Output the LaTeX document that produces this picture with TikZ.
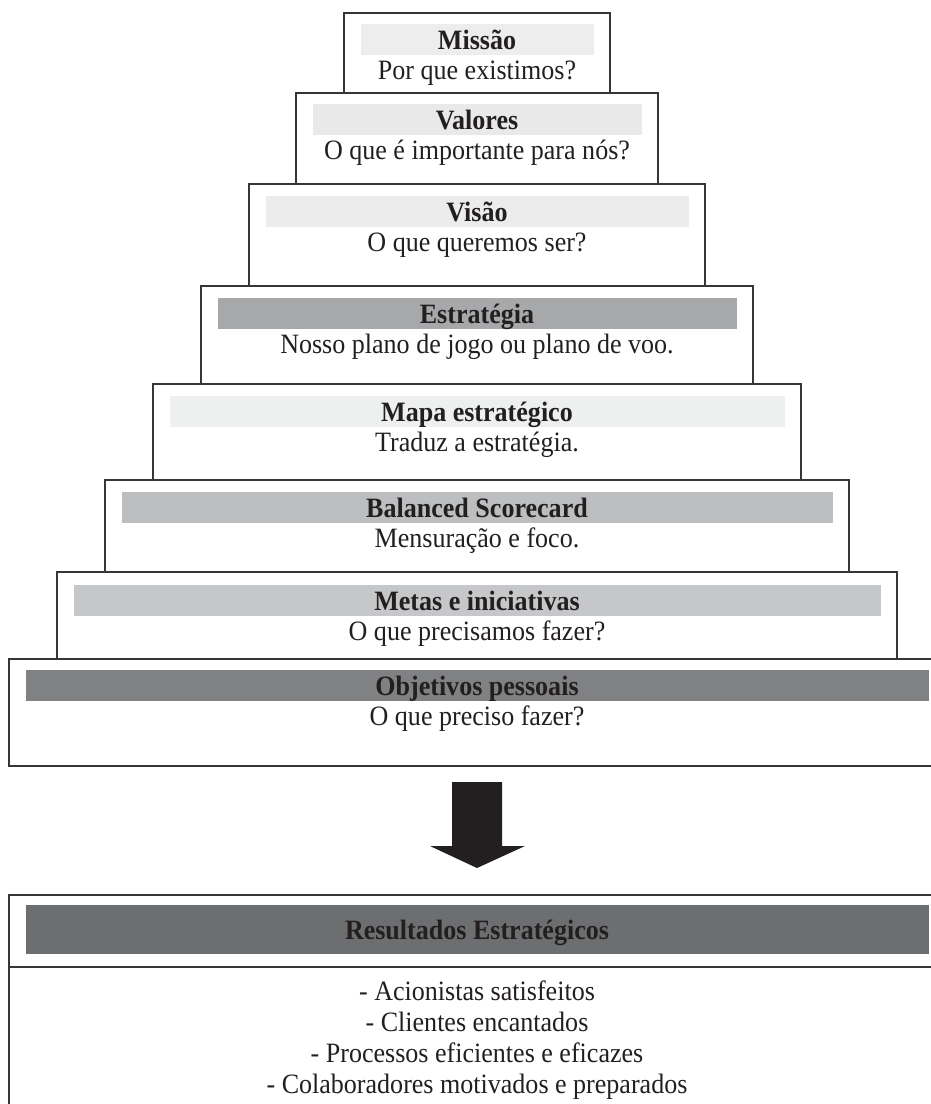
\documentclass[tikz,border=0pt]{standalone}
\usepackage{fontspec}
\setmainfont[FakeStretch=0.93]{Liberation Serif}
\definecolor{linec}{HTML}{363636}
\definecolor{txtc}{HTML}{231F20}
\definecolor{arrowc}{HTML}{231F20}
\definecolor{bandA}{HTML}{EDEDED}
\definecolor{bandB}{HTML}{E9E9E9}
\definecolor{bandC}{HTML}{ECECEC}
\definecolor{bandD}{HTML}{A7A8AA}
\definecolor{bandE}{HTML}{EEEFEF}
\definecolor{bandF}{HTML}{BDBEC0}
\definecolor{bandG}{HTML}{C6C7C9}
\definecolor{bandH}{HTML}{808183}
\definecolor{bandR}{HTML}{6D6E70}
\newcommand\pyrlevel[8]{%
  \pgfmathsetmacro\lvW{2*(477-#2)}%
  \pgfmathsetmacro\lvH{#4-#3}%
  \pgfmathsetmacro\lvBW{\lvW-33}%
  \node[levelbox, minimum width=\lvW pt, minimum height=\lvH pt] (#1) at (#2,#3) {};
  \node[bandbox, fill=#6, minimum width=\lvBW pt] (#1band) at ({#2+16.5},#5) {};
  \node[ttl] (#1title) at (477,{#5+25}) {#7};
  \node[sub] (#1sub) at (477,{#5+55}) {#8};
}
\begin{document}
\begin{tikzpicture}[x=1pt,y=-1pt,
  levelbox/.style={draw=linec, line width=1.6pt, fill=white, inner sep=0pt, outer sep=0pt, anchor=north west},
  bandbox/.style={draw=none, inner sep=0pt, outer sep=0pt, minimum height=31pt, anchor=north west},
  ttl/.style={font=\fontsize{28}{31}\selectfont\bfseries, text=txtc, anchor=base, inner sep=0pt},
  sub/.style={font=\fontsize{28}{31}\selectfont, text=txtc, anchor=base, inner sep=0pt},
  item/.style={font=\fontsize{28}{31}\selectfont, text=txtc, anchor=base, inner sep=0pt}]
\useasboundingbox (0,0) rectangle (931,1104);
\clip (0,0) rectangle (931,1104);
\fill[white] (0,0) rectangle (931,1104);
\pyrlevel{l1}{344}{13}{93}{24}{bandA}{Missão}{Por que existimos?}
\pyrlevel{l2}{296}{93}{184}{104}{bandB}{Valores}{O que é importante para nós?}
\pyrlevel{l3}{249}{184}{286}{196}{bandC}{Visão}{O que queremos ser?}
\pyrlevel{l4}{201}{286}{384}{298}{bandD}{Estratégia}{Nosso plano de jogo ou plano de voo.}
\pyrlevel{l5}{153}{384}{480}{396}{bandE}{Mapa estratégico}{Traduz a estratégia.}
\pyrlevel{l6}{105}{480}{572}{492}{bandF}{Balanced Scorecard}{Mensuração e foco.}
\pyrlevel{l7}{57}{572}{659}{585}{bandG}{Metas e iniciativas}{O que precisamos fazer?}
\pyrlevel{l8}{9}{659}{766}{670}{bandH}{Objetivos pessoais}{O que preciso fazer?}
% arrow
\fill[arrowc] (452,782) -- (502,782) -- (502,846) -- (525,846) -- (477,868) -- (430,846) -- (452,846) -- cycle;
% results box
\node[levelbox, minimum width=960pt, minimum height=230pt] (res) at (9,895) {};
\node[bandbox, fill=bandR, minimum width=903pt, minimum height=49pt] (resband) at (26,905) {};
\node[ttl] (restitle) at (477,939) {Resultados Estratégicos};
\coordinate (divL) at (9,967);
\coordinate (divR) at (969,967);
\draw[draw=linec, line width=1.6pt] (divL) -- (divR);
\node[item] (r1) at (477,1000) {- Acionistas satisfeitos};
\node[item] (r2) at (477,1031) {- Clientes encantados};
\node[item] (r3) at (477,1062) {- Processos eficientes e eficazes};
\node[item] (r4) at (477,1093) {- Colaboradores motivados e preparados};
\end{tikzpicture}
\end{document}
